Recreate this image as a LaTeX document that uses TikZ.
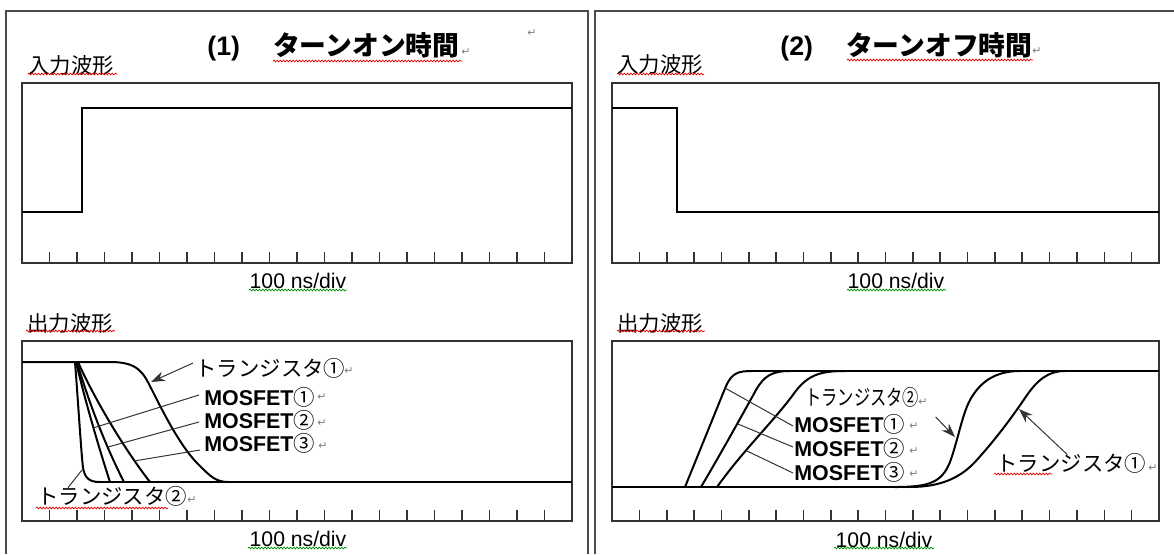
\documentclass[tikz,border=0pt]{standalone}
\usepackage{fontspec}
\usepackage{graphicx}
\setmainfont{Liberation Sans}
\newfontfamily\jp{Noto Sans CJK JP}
\newfontfamily\jpbold{Noto Sans CJK JP Bold}
\newfontfamily\symfont{DejaVu Sans}
\usetikzlibrary{arrows.meta,decorations.pathmorphing}

\begin{document}
\begin{tikzpicture}[x=0.5pt,y=-0.5pt,
    sheet/.style={draw=black!70,line width=0.6pt},
    panel/.style={draw=black!80,line width=0.8pt},
    sig/.style={line width=1.3pt},
    wave/.style={line width=1pt,line join=round},
    lead/.style={draw=black!80,line width=0.5pt},
    ptr/.style={lead,-{Stealth[length=7pt,width=5pt]}},
    lbl/.style={inner sep=0pt,anchor=west,font=\jp\fontsize{10.7}{12}\selectfont},
    mos/.style={inner sep=0pt,anchor=west,font=\bfseries\fontsize{10.7}{12}\selectfont},
    divtxt/.style={inner sep=0pt,font=\fontsize{10.6}{12}\selectfont},
    ttl/.style={inner sep=0pt,anchor=west,font=\bfseries\fontsize{13.4}{15}\selectfont},
    ret/.style={inner sep=0pt,text=black!50,font=\symfont\fontsize{5.5}{6}\selectfont},
    spell/.style={draw=red!90!black,line width=0.35pt,decorate,
      decoration={snake,amplitude=0.45pt,segment length=1.6pt}},
    gram/.style={spell,draw=green!55!black}]
  \useasboundingbox (0,0) rectangle (1174,554);

  % page frames
  \draw[sheet] (6,554) -- (6,11) -- (588,11) -- (588,554);
  \draw[sheet] (595,554) -- (595,11) -- (1174,11);

  % scope screens
  \draw[panel] (22,83) rectangle (572,263);
  \draw[panel] (22,341) rectangle (572,521);
  \draw[panel] (612,83) rectangle (1159,263);
  \draw[panel] (612,341) rectangle (1159,521);
  \foreach \bx/\w in {22/27.5, 612/27.35}
    \foreach \by in {263, 521}
      \foreach \k in {1,...,19}
        \draw[panel] ({\bx+\k*\w},\by) -- ++(0,-11);

  % input waveforms
  \draw[sig] (22,212) -- (82,212) -- (82,108) -- (572,108);
  \draw[sig] (612,108) -- (677,108) -- (677,212) -- (1159,212);

  % (1) turn-on outputs
  \draw[wave] (22,362) -- (110,362) .. controls (138,362) and (143,372) .. (152,390)
    .. controls (167,420) and (183,450) .. (200,466) .. controls (210,476) and (216,482) .. (228,482);
  \draw[wave] (75,362) .. controls (78,400) and (81,450) .. (83,468)
    .. controls (85,478) and (89,482) .. (100,482);
  \draw[wave] (76,362) .. controls (85,400) and (98,445) .. (110,482);
  \draw[wave] (77,362) .. controls (88,400) and (105,445) .. (124,482);
  \draw[wave] (78,362) .. controls (95,400) and (125,450) .. (150,482);
  \draw[wave] (95,482) -- (572,482);

  % (2) turn-off outputs
  \draw[wave] (612,487) -- (912,487);
  \draw[wave] (750,371) -- (1159,371);
  \draw[wave] (685,487) -- (726,386) .. controls (732,373) and (738,371) .. (752,371);
  \draw[wave] (701,487) .. controls (720,455) and (745,410) .. (756,390)
    .. controls (764,376) and (772,371) .. (790,371);
  \draw[wave] (717,487) .. controls (745,448) and (775,420) .. (795,392)
    .. controls (808,375) and (820,371) .. (845,371);
  \draw[wave] (895,487) .. controls (930,487) and (942,482) .. (950,462)
    .. controls (958,440) and (962,415) .. (970,400) .. controls (980,382) and (995,371) .. (1020,371);
  \draw[wave] (910,487) .. controls (940,487) and (960,478) .. (975,462)
    .. controls (995,440) and (1010,420) .. (1025,398) .. controls (1037,380) and (1048,371) .. (1065,371);

  % titles and captions
  \node[ttl] (ttlon) at (207,47) {(1)\hspace{16.5pt}{\jpbold ターンオン時間}};
  \node[ttl] (ttloff) at (780,47) {(2)\hspace{16.5pt}{\jpbold ターンオフ時間}};
  \node[lbl] (inL) at (28,65) {入力波形};
  \node[lbl] (outL) at (27,323) {出力波形};
  \node[lbl] (inR) at (617,64) {入力波形};
  \node[lbl] (outR) at (617,323) {出力波形};
  \node[divtxt] (divLa) at (298,281) {100 ns/div};
  \node[divtxt] (divLb) at (298,539) {100 ns/div};
  \node[divtxt] (divRa) at (896,281) {100 ns/div};
  \node[divtxt] (divRb) at (884,540) {100 ns/div};

  % labels of (1)
  \node[lbl] (trAL) at (195,368) {トランジスタ①};
  \node[mos] (mosAL) at (204,397) {MOSFET{\mdseries\jp ①}};
  \node[mos] (mosBL) at (204,420) {MOSFET{\mdseries\jp ②}};
  \node[mos] (mosCL) at (204,443) {MOSFET{\mdseries\jp ③}};
  \node[lbl] (trBL) at (37,496) {トランジスタ②};

  % labels of (2)
  \node[lbl] (trBR) at (805,397) {\scalebox{0.76}[1]{トランジスタ②}};
  \node[mos] (mosAR) at (794,424) {MOSFET{\mdseries\jp ①}};
  \node[mos] (mosBR) at (794,448) {MOSFET{\mdseries\jp ②}};
  \node[mos] (mosCR) at (794,472) {MOSFET{\mdseries\jp ③}};
  \node[lbl] (trAR) at (996,463) {トランジスタ①};

  % points on the traces
  \coordinate (tipAL) at (151,382);
  \coordinate (endAL) at (93,428);
  \coordinate (endBL) at (108,447);
  \coordinate (endCL) at (134,461);
  \coordinate (endTL) at (82,470);
  \coordinate (tipBR) at (955,437);
  \coordinate (tipAR) at (1019,409);
  \coordinate (endAR) at (725,388);
  \coordinate (endBR) at (738,424);
  \coordinate (endCR) at (747,451);

  \draw[ptr] ([shift={(-2,-5)}]trAL.west) -- (tipAL);
  \draw[lead] ([shift={(-5,-2)}]mosAL.west) -- (endAL);
  \draw[lead] ([shift={(-5,2)}]mosBL.west) -- (endBL);
  \draw[lead] ([shift={(-4,7)}]mosCL.west) -- (endCL);
  \draw[lead] ([shift={(31,2)}]trBL.north west) -- (endTL);
  \draw[ptr] ([shift={(16,20)}]trBR.east) -- (tipBR);
  \draw[lead] ([shift={(-1,2)}]mosAR.west) -- (endAR);
  \draw[lead] ([shift={(-1,-1)}]mosBR.west) -- (endBR);
  \draw[lead] ([shift={(-1,1)}]mosCR.west) -- (endCR);
  \draw[ptr] ([shift={(-4,2)}]trAR.north) -- (tipAR);

  % paragraph marks
  \foreach \x/\y [count=\i] in {532/33, 466/52, 349/371, 322/397, 322/423, 323/446, 192/500,
      1037/51, 923/402, 914/426, 914/451, 914/474, 1153/468}
    \node[ret] (ret\i) at (\x,\y) {↵};

  % spell check underlines
  \foreach \a/\b/\y in {273/462/61, 28/117/74, 26/115/331, 36/168/508,
      847/1033/60, 617/704/74, 617/705/331, 994/1052/474}
    \draw[spell] (\a,\y) -- (\b,\y);
  \foreach \a/\b/\y in {249/347/290, 248/347/548, 847/946/290, 834/934/548}
    \draw[gram] (\a,\y) -- (\b,\y);
\end{tikzpicture}
\end{document}
